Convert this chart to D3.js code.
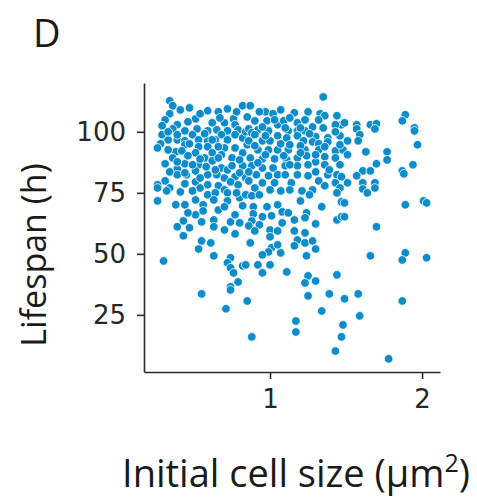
<!DOCTYPE html>
<html lang="en">
<head>
<meta charset="UTF-8">
<title>Lifespan vs initial cell size</title>
<script src="https://d3js.org/d3.v7.min.js"></script>
<style>
    body { margin: 0; background: #fff; }
    svg { display: block; }
</style>
</head>
<body>
<div id="chart"></div>
<script>
// initial cell size (um^2), lifespan (h)
const cells = [
    [0.34,112.7],[0.36,110.7],[0.59,108.6],[0.72,109.4],[0.82,110.7],[0.34,107.4],[0.31,104.9],[0.51,105.3],
    [0.39,102.9],[0.62,103.7],[0.70,103.7],[0.76,105.3],[0.77,102.9],[0.29,102.5],[0.36,101.2],[0.44,100.4],
    [0.52,101.2],[0.59,100.4],[0.65,100.8],[0.72,100.4],[0.79,100.8],[0.29,98.8],[0.49,98.8],[0.68,98.8],
    [0.77,98.8],[0.33,96.7],[0.39,96.7],[0.44,96.3],[0.53,96.7],[0.59,96.3],[0.64,96.7],[0.72,96.7],
    [0.82,97.5],[0.28,95.1],[0.26,93.4],[0.53,93.9],[0.59,93.9],[0.70,93.4],[0.77,93.4],[0.44,94.7],
    [0.38,91.8],[0.42,92.2],[0.51,91.4],[0.62,91.4],[0.68,90.6],[0.82,91.4],[0.36,89.3],[0.57,89.3],
    [0.75,89.3],[0.31,86.9],[0.44,86.9],[0.53,86.5],[0.62,88.1],[0.68,85.2],[0.72,84.4],[0.82,86.1],
    [0.39,84.8],[0.51,84.0],[0.59,82.4],[0.65,82.4],[0.70,81.1],[0.77,81.6],[0.39,82.4],[0.45,82.4],
    [0.44,78.7],[0.51,79.5],[0.31,79.9],[0.26,78.3],[0.59,78.3],[0.79,78.3],
    [0.41,109.0],[0.47,109.8],[0.54,107.4],[0.66,108.2],[0.78,108.2],[0.46,104.1],[0.67,105.7],[0.85,106.1],
    [0.33,100.0],[0.39,98.8],[0.57,99.2],[0.62,96.7],[0.84,100.0],[0.47,95.1],[0.66,93.9],[0.85,94.7],
    [0.33,92.6],[0.46,90.2],[0.54,88.9],[0.66,89.3],[0.80,88.5],[0.39,87.7],[0.49,86.5],[0.58,85.7],
    [0.75,86.1],[0.34,83.6],[0.44,83.2],[0.64,84.4],[0.80,83.2],[0.54,81.1],[0.74,79.5],[0.34,77.0],
    [0.41,75.4],[0.66,77.9],[0.84,81.1],[0.54,77.0],[0.70,76.2],[0.51,72.1],[0.80,73.0],[0.38,70.1],
    [0.66,68.0],[0.51,66.0],[0.74,63.1],[0.47,60.7],
    [1.35,114.3],[0.87,110.7],[0.97,108.2],[1.02,107.4],[1.33,107.4],[1.36,106.6],[1.44,106.6],[0.90,104.5],
    [0.98,104.5],[1.05,102.9],[1.09,104.5],[1.18,103.7],[1.23,104.9],[1.28,102.0],[1.35,101.6],[1.47,102.9],
    [0.86,101.2],[0.92,100.8],[0.99,100.4],[1.12,100.4],[1.18,100.4],[1.23,100.4],[0.88,99.6],[0.90,98.8],
    [1.05,98.4],[1.11,97.5],[1.18,98.4],[1.30,98.0],[1.38,97.5],[1.46,98.4],[0.86,96.3],[0.95,96.3],
    [1.00,96.3],[1.22,96.3],[1.28,95.9],[1.32,95.1],[1.38,95.9],[0.92,92.6],[0.99,92.6],[1.05,92.6],
    [1.12,92.6],[1.23,92.6],[1.32,92.6],[1.43,92.2],[1.48,92.6],[0.87,89.3],[0.95,88.9],[1.03,88.9],
    [1.11,88.5],[1.18,89.3],[1.24,90.2],[1.36,89.8],[0.88,86.1],[0.95,85.2],[1.02,85.2],[1.10,86.1],
    [1.18,86.1],[1.30,87.7],[0.91,82.4],[0.99,82.0],[1.05,82.4],[1.18,82.4],[1.25,82.0],[1.38,82.4],
    [1.44,82.4],[0.86,79.9],[0.95,79.1],[1.03,79.1],[1.14,79.1],[1.32,79.9],[1.43,79.1],[1.47,81.6],
    [0.93,108.2],[1.07,109.0],[1.16,107.8],[1.25,108.2],[1.13,105.7],[0.95,102.0],[1.03,104.9],[1.20,101.6],
    [1.32,104.9],[1.43,102.9],[0.97,98.4],[1.10,101.6],[1.26,99.2],[1.43,100.0],[1.13,94.7],[1.07,95.1],
    [0.90,94.3],[1.20,94.3],[1.36,93.9],[1.46,94.7],[0.97,90.6],[1.09,90.2],[1.20,91.4],[1.30,90.6],
    [1.43,89.3],[0.92,87.3],[1.13,86.5],[1.25,86.5],[1.36,86.5],[1.46,86.5],[0.86,83.6],[1.10,82.4],
    [1.30,83.6],[1.39,84.4],[0.90,77.0],[1.00,76.2],[1.13,76.2],[1.36,77.9],[1.46,77.0],[0.84,74.2],
    [1.89,107.0],[1.87,104.5],[1.49,103.7],[1.57,102.9],[1.57,101.2],[1.66,102.9],[1.70,103.3],[1.69,101.2],
    [1.95,101.6],[1.95,100.4],[1.59,98.8],[1.51,96.3],[1.58,96.3],[1.97,94.7],[1.63,91.8],[1.77,91.8],
    [1.77,88.5],[1.51,90.6],[1.70,86.9],[1.94,86.5],[1.87,84.0],[1.88,82.8],[1.61,84.0],[1.66,84.0],
    [1.57,82.0],[1.61,79.1],[1.69,79.1],[1.51,79.1],
    [0.26,77.0],[0.32,75.8],[0.26,71.7],[0.49,75.8],[0.59,74.2],[0.64,75.0],[0.72,75.0],[0.78,75.0],
    [0.44,70.1],[0.56,70.1],[0.63,72.1],[0.72,71.7],[0.46,66.8],[0.56,67.6],[0.70,69.3],[0.77,66.0],
    [0.82,69.7],[0.43,63.5],[0.55,63.1],[0.63,63.9],[0.39,61.1],[0.63,61.1],[0.70,59.8],[0.80,62.7],
    [0.77,58.2],[0.43,57.4],[0.55,55.3],[0.61,54.5],[0.53,52.0],[0.63,49.2],[0.30,47.1],[0.74,48.4],
    [0.72,46.3],[0.74,44.3],[0.82,45.1],[0.76,42.2],[0.79,38.5],[0.74,36.5],
    [0.88,73.8],[0.93,74.2],[1.07,75.8],[1.21,75.8],[1.28,76.2],[1.44,75.0],[1.20,71.7],[1.26,74.2],
    [1.47,71.3],[0.89,69.3],[0.98,69.3],[1.05,70.1],[1.08,67.2],[1.12,66.8],[1.24,66.8],[1.23,64.8],
    [1.34,69.3],[0.89,66.4],[0.95,65.2],[0.88,63.5],[1.01,65.6],[0.86,61.5],[0.93,61.9],[1.08,62.7],
    [1.16,63.9],[1.30,62.3],[1.44,63.9],[1.47,65.2],[0.90,59.4],[1.00,59.8],[1.05,59.4],[1.16,59.4],
    [1.23,58.6],[1.00,57.0],[1.18,55.7],[1.23,54.5],[1.28,55.3],[0.87,54.5],[1.30,52.0],[1.01,52.5],
    [1.05,53.7],[0.99,50.8],[1.07,50.4],[1.16,53.3],[1.24,49.2],[0.95,49.6],[0.84,45.5],[0.92,45.5],
    [1.00,45.5],[0.95,42.2],[1.11,42.6],[1.25,41.0],[1.30,38.9],[1.23,38.1],[1.44,41.4],
    [1.61,76.6],[1.64,75.0],[1.69,77.0],[1.49,70.9],[1.49,65.2],[1.89,70.1],[2.01,71.7],[2.03,70.9],
    [1.70,61.1],[1.66,49.2],[1.89,50.4],[1.87,47.5],[2.03,48.4],
    [0.55,33.6],[0.74,35.2],[0.71,27.5],[0.85,30.7],[0.88,16.0],[1.25,32.8],[1.39,33.6],[1.34,26.6],
    [1.49,31.6],[1.17,22.5],[1.17,18.0],[1.48,20.9],[1.47,16.0],[1.43,10.2],[1.58,33.6],[1.87,30.7],
    [1.59,24.6],[1.78,7.0]
];
const xTicks = [1, 2];
const yTicks = [25, 50, 75, 100];
const xLimits = [0.171, 2.118];
const yLimits = [1.6, 120];

const width = 477, height = 497;
const plot = { left: 144, right: 440, top: 83, bottom: 372 };
const axisColor = "#2b2b2b";
const dotColor = "#0b8ccb";

const svg = d3.select("#chart").append("svg")
    .attr("width", width)
    .attr("height", height);

const x = d3.scaleLinear().domain(xLimits).range([plot.left, plot.right]);
const y = d3.scaleLinear().domain(yLimits).range([plot.bottom, plot.top]);

// points
svg.append("g")
    .selectAll("circle")
    .data(cells)
    .join("circle")
    .attr("cx", d => x(d[0]))
    .attr("cy", d => y(d[1]))
    .attr("r", 4.3)
    .attr("fill", dotColor)
    .attr("stroke", "#fff")
    .attr("stroke-width", 0.8);

// axes
const xAxis = svg.append("g")
    .attr("transform", `translate(0,${plot.bottom})`)
    .call(d3.axisBottom(x).tickValues(xTicks).tickFormat(d3.format("d")).tickSize(7).tickSizeOuter(0).tickPadding(11));

const yAxis = svg.append("g")
    .attr("transform", `translate(${plot.left},0)`)
    .call(d3.axisLeft(y).tickValues(yTicks).tickSize(7).tickSizeOuter(0).tickPadding(11));

[xAxis, yAxis].forEach(g => {
    g.select(".domain").attr("stroke", axisColor).attr("stroke-width", 1.6);
    g.selectAll(".tick line").attr("stroke", axisColor).attr("stroke-width", 1.6);
    g.selectAll(".tick text")
        .attr("fill", "#262626")
        .style("font-family", "DejaVu Sans")
        .style("font-size", "26px");
});

// axis titles
svg.append("text")
    .attr("x", 296)
    .attr("y", 487)
    .attr("text-anchor", "middle")
    .style("font-family", "Open Sans")
    .style("font-size", "38px")
    .attr("fill", "#1a1a1a")
    .html('Initial cell size (μm<tspan dy="-15" font-size="25px">2</tspan><tspan dy="15">)</tspan>');

svg.append("text")
    .attr("transform", "translate(46,255) rotate(-90)")
    .attr("text-anchor", "middle")
    .style("font-family", "Open Sans")
    .style("font-size", "34px")
    .attr("fill", "#1a1a1a")
    .text("Lifespan (h)");

// panel letter
svg.append("text")
    .attr("x", 33)
    .attr("y", 47)
    .style("font-family", "Open Sans")
    .style("font-size", "38px")
    .attr("fill", "#1a1a1a")
    .text("D");
</script>
</body>
</html>
